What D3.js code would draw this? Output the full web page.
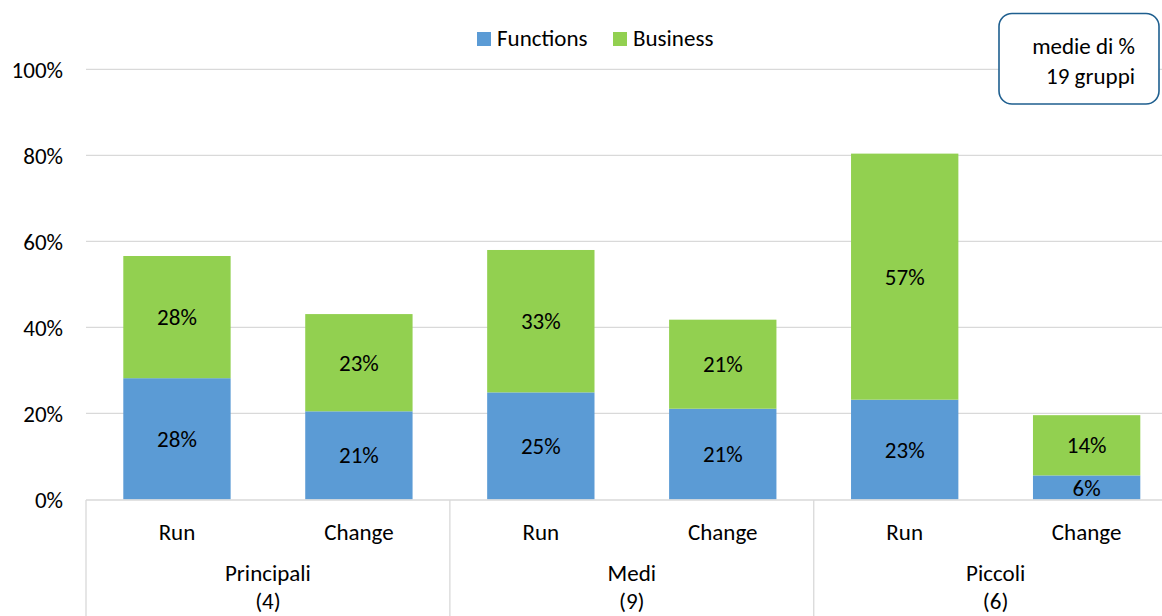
<!DOCTYPE html>
<html>
<head>
<meta charset="utf-8">
<script src="https://cdn.jsdelivr.net/npm/d3@7"></script>
<style>
  html, body { margin: 0; padding: 0; background: #fff; }
  svg { display: block; }
  text { font-family: Calibri, Carlito, Lato, "DejaVu Sans", sans-serif; fill: #000; }
</style>
</head>
<body>
<svg id="chart" width="1162" height="616"></svg>
<script>
// ---- data ----
const categories = ["Run", "Change", "Run", "Change", "Run", "Change"];
const groups = ["Principali", "Medi", "Piccoli"];
const groupCounts = ["(4)", "(9)", "(6)"];
const functionsValues = [28.2, 20.5, 24.9, 21.1, 23.2, 5.6];
const businessValues = [28.4, 22.6, 33.1, 20.7, 57.2, 14.0];
const seriesNames = ["Functions", "Business"];
const seriesColors = ["#5B9BD5", "#92D050"];
const yTicks = [0, 20, 40, 60, 80, 100];
const noteLines = ["medie di %", "19 gruppi"];

// ---- layout ----
const W = 1162, H = 616;
const plotLeft = 86, plotRight = 1177.6;
const y0 = 499.5, y100 = 69.3;
const FS = 23;

const svg = d3.select("#chart");

const keys = categories.map((c, i) => i);
const x = d3.scaleBand().domain(keys).range([plotLeft, plotRight])
  .paddingInner(0.41).paddingOuter(0.205);
const y = d3.scaleLinear().domain([0, 100]).range([y0, y100]);

// gridlines
svg.append("g").selectAll("line").data(yTicks.filter(t => t > 0)).join("line")
  .attr("x1", plotLeft).attr("x2", W)
  .attr("y1", d => y(d)).attr("y2", d => y(d))
  .attr("stroke", "#d9d9d9").attr("stroke-width", 1.3);

// y axis labels
const yAxis = d3.axisLeft(y).tickValues(yTicks).tickFormat(d => d + "%").tickSize(0).tickPadding(0);
const yg = svg.append("g").attr("transform", `translate(63,0)`).call(yAxis);
yg.select(".domain").remove();
yg.selectAll("text").attr("font-size", FS).attr("fill", "#000")
  .style("font-family", "Calibri, Carlito, Lato, sans-serif").attr("dy", "0.35em");

// stacked data
const rows = keys.map(i => ({ i, Functions: functionsValues[i], Business: businessValues[i] }));
const stack = d3.stack().keys(seriesNames)(rows);

const layers = svg.append("g").selectAll("g").data(stack).join("g")
  .attr("fill", (d, k) => seriesColors[k]);
layers.selectAll("rect").data(d => d).join("rect")
  .attr("x", d => x(d.data.i))
  .attr("width", x.bandwidth())
  .attr("y", d => y(d[1]))
  .attr("height", d => y(d[0]) - y(d[1]));

// data labels
const lab = svg.append("g");
stack.forEach(layer => {
  lab.selectAll(null).data(layer).join("text")
    .attr("x", d => x(d.data.i) + x.bandwidth() / 2)
    .attr("y", d => (y(d[0]) + y(d[1])) / 2)
    .attr("dy", "0.35em")
    .attr("text-anchor", "middle")
    .attr("font-size", FS)
    .text(d => Math.round(d[1] - d[0]) + "%");
});

// category axis line
svg.append("line").attr("x1", plotLeft).attr("x2", W).attr("y1", 500).attr("y2", 500)
  .attr("stroke", "#d9d9d9").attr("stroke-width", 1.3);

// group separators
const step = x.step();
const seps = d3.range(groups.length + 1).map(g => plotLeft + g * 2 * step);
svg.append("g").selectAll("line").data(seps).join("line")
  .attr("x1", d => d).attr("x2", d => d).attr("y1", 500).attr("y2", H)
  .attr("stroke", "#d9d9d9").attr("stroke-width", 1.3);

// category labels
svg.append("g").selectAll("text").data(keys).join("text")
  .attr("x", i => x(i) + x.bandwidth() / 2).attr("y", 540)
  .attr("text-anchor", "middle").attr("font-size", FS)
  .text(i => categories[i]);

// group labels
const gl = svg.append("g");
gl.selectAll("text.gname").data(groups).join("text").attr("class", "gname")
  .attr("x", (d, g) => plotLeft + (g * 2 + 1) * step).attr("y", 581)
  .attr("text-anchor", "middle").attr("font-size", FS).text(d => d);
gl.selectAll("text.gcount").data(groupCounts).join("text").attr("class", "gcount")
  .attr("x", (d, g) => plotLeft + (g * 2 + 1) * step).attr("y", 609)
  .attr("text-anchor", "middle").attr("font-size", FS).text(d => d);

// legend
const legend = svg.append("g");
const legendX = [477, 613];
seriesNames.forEach((s, k) => {
  legend.append("rect").attr("x", legendX[k]).attr("y", 32).attr("width", 14).attr("height", 14)
    .attr("fill", seriesColors[k]);
  legend.append("text").attr("x", legendX[k] + 20).attr("y", 46)
    .attr("font-size", FS).text(s);
});

// note box
svg.append("rect").attr("x", 999).attr("y", 13.5).attr("width", 160).attr("height", 90.5)
  .attr("rx", 13).attr("ry", 13)
  .attr("fill", "#fff").attr("stroke", "#1F5F8F").attr("stroke-width", 1.6);
svg.append("g").selectAll("text").data(noteLines).join("text")
  .attr("x", 1135).attr("y", (d, k) => 54 + k * 30)
  .attr("text-anchor", "end").attr("font-size", FS).text(d => d);
</script>
</body>
</html>
